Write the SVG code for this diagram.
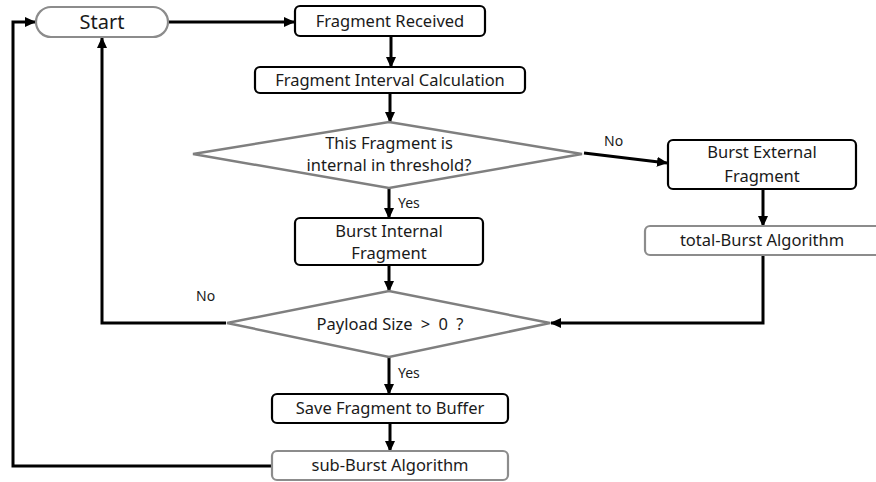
<svg xmlns="http://www.w3.org/2000/svg" width="876" height="482" viewBox="0 0 876 482">
  <style>
    .box { fill: #ffffff; stroke: #000000; stroke-width: 2.2; }
    .soft { fill: #ffffff; stroke: #8c8c8c; stroke-width: 2.2; }
    .dia { fill: #ffffff; stroke: #7f7f7f; stroke-width: 2.5; stroke-linejoin: miter; }
    .lbl { font-family: "Noto Sans", "Open Sans", sans-serif; font-size: 16.5px; fill: #1a1a1a; text-anchor: middle; }
    .big { font-size: 20px; }
    .tag { font-family: "Noto Sans", "Open Sans", sans-serif; font-size: 14px; fill: #1a1a1a; }
    .wire { fill: none; stroke: #000000; stroke-width: 3; stroke-linejoin: miter; }
  </style>
  <defs>
    <marker id="head" markerUnits="userSpaceOnUse" markerWidth="11" markerHeight="10" refX="10" refY="5" orient="auto">
      <path d="M0,0 L11,5 L0,10 Z" fill="#000000"/>
    </marker>
  </defs>

  <!-- connectors -->
  <g id="connectors">
    <path class="wire" d="M169,22 H294" marker-end="url(#head)"/>
    <path class="wire" d="M391,36 V67" marker-end="url(#head)"/>
    <path class="wire" d="M390,93 V122" marker-end="url(#head)"/>
    <path class="wire" d="M389,188 V218" marker-end="url(#head)"/>
    <path class="wire" d="M584,153 L667,163" marker-end="url(#head)"/>
    <path class="wire" d="M763,189 V226" marker-end="url(#head)"/>
    <path class="wire" d="M763,255 V323 H551" marker-end="url(#head)"/>
    <path class="wire" d="M389,265 V291" marker-end="url(#head)"/>
    <path class="wire" d="M226,323 H102 V38" marker-end="url(#head)"/>
    <path class="wire" d="M389,357 V394" marker-end="url(#head)"/>
    <path class="wire" d="M390,423 V451" marker-end="url(#head)"/>
    <path class="wire" d="M272,466 H13 V22 H35" marker-end="url(#head)"/>
    <text class="tag" x="398" y="208">Yes</text>
    <text class="tag" x="604" y="146">No</text>
    <text class="tag" x="196" y="301">No</text>
    <text class="tag" x="398" y="378">Yes</text>
  </g>

  <g id="start">
    <rect class="soft" x="36" y="7" width="132" height="30" rx="15"/>
    <text class="lbl big" x="102" y="29">Start</text>
  </g>

  <g id="fragment-received">
    <rect class="box" x="295" y="6" width="190" height="30" rx="5"/>
    <text class="lbl" x="390" y="27">Fragment Received</text>
  </g>

  <g id="interval-calc">
    <rect class="box" x="255" y="67" width="270" height="26" rx="5"/>
    <text class="lbl" x="390" y="86">Fragment Interval Calculation</text>
  </g>

  <g id="threshold-check">
    <polygon class="dia" points="193,154 389,122 582,154 389,188"/>
    <text class="lbl" x="389" y="149">This Fragment is</text>
    <text class="lbl" x="389" y="171">internal in threshold?</text>
  </g>

  <g id="burst-internal">
    <rect class="box" x="295" y="218" width="188" height="47" rx="5"/>
    <text class="lbl" x="389" y="237">Burst Internal</text>
    <text class="lbl" x="389" y="259">Fragment</text>
  </g>

  <g id="burst-external">
    <rect class="box" x="668" y="140" width="188" height="49" rx="5"/>
    <text class="lbl" x="762" y="158">Burst External</text>
    <text class="lbl" x="762" y="182">Fragment</text>
  </g>

  <g id="total-burst">
    <rect class="soft" x="645" y="226" width="236" height="29" rx="5"/>
    <text class="lbl" x="762" y="246">total-Burst Algorithm</text>
  </g>

  <g id="payload-check">
    <polygon class="dia" points="227,323 389,291 550,323 389,357"/>
    <text class="lbl" x="390" y="330">Payload Size<tspan word-spacing="4"> &gt; 0 ?</tspan></text>
  </g>

  <g id="save-buffer">
    <rect class="box" x="272" y="394" width="236" height="29" rx="5"/>
    <text class="lbl" x="390" y="414">Save Fragment to Buffer</text>
  </g>

  <g id="sub-burst">
    <rect class="soft" x="272" y="451" width="236" height="29" rx="5"/>
    <text class="lbl" x="390" y="471">sub-Burst Algorithm</text>
  </g>
</svg>
